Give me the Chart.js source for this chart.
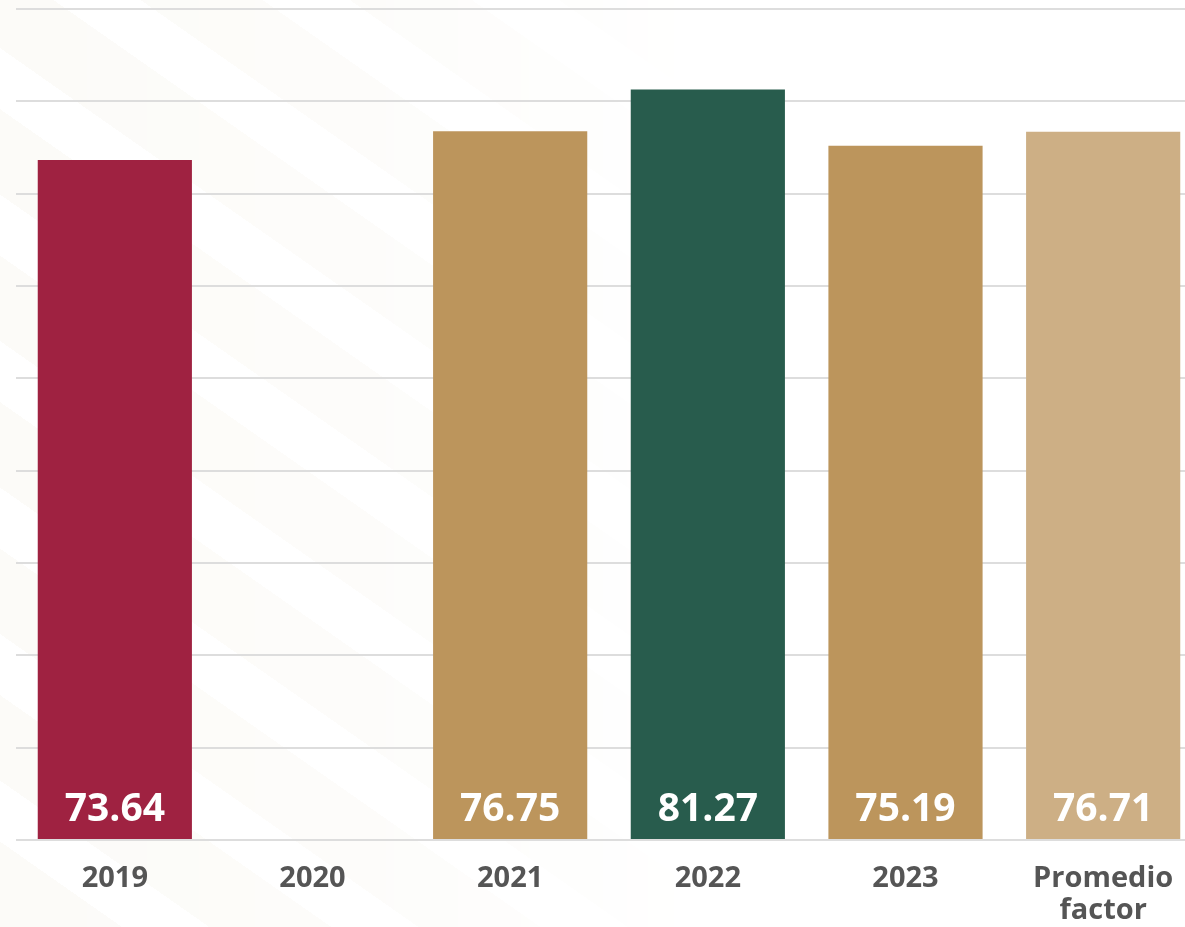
<!DOCTYPE html>
<html>
<head>
<meta charset="utf-8">
<script src="https://cdn.jsdelivr.net/npm/chart.js@4.4.1/dist/chart.umd.min.js"></script>
<style>
  html, body { margin: 0; padding: 0; width: 1185px; height: 927px; overflow: hidden; background: #ffffff; }
  #bg {
    position: absolute; left: 0; top: 0; width: 1185px; height: 927px;
    background: repeating-linear-gradient(35deg, #fcfbf8 0px, #fcfbf8 70px, #ffffff 70px, #ffffff 120px);
    -webkit-mask-image: linear-gradient(90deg, rgba(0,0,0,1) 0%, rgba(0,0,0,0.7) 30%, rgba(0,0,0,0) 60%);
    mask-image: linear-gradient(90deg, rgba(0,0,0,1) 0%, rgba(0,0,0,0.7) 30%, rgba(0,0,0,0) 60%);
  }
  #wrap { position: absolute; left: 0; top: 0; width: 1202px; height: 927px; }
</style>
</head>
<body>
<div id="bg"></div>
<div id="wrap"><canvas id="chart" width="1202" height="927"></canvas></div>
<script>
// Categories and values of the factor per year
const categories = ['2019', '2020', '2021', '2022', '2023', ['Promedio', 'factor']];
const factorValues = [73.64, null, 76.75, 81.27, 75.19, 76.71];
const barColors = ['#9f2241', '#bc955c', '#bc955c', '#285c4d', '#bc955c', '#cdaf85'];
const yMin = 0, yMax = 90, yStep = 10;

// Value labels drawn inside each bar near its base
const valueLabels = {
  id: 'valueLabels',
  afterDatasetsDraw(chart) {
    const { ctx } = chart;
    const meta = chart.getDatasetMeta(0);
    const yScale = chart.scales.y;
    const base = yScale.getPixelForValue(0);
    ctx.save();
    ctx.font = '700 39px "Open Sans", sans-serif';
    ctx.fillStyle = '#ffffff';
    ctx.textAlign = 'center';
    ctx.textBaseline = 'alphabetic';
    meta.data.forEach((bar, i) => {
      const v = factorValues[i];
      if (v === null || v === undefined) return;
      ctx.fillText(v.toFixed(2), bar.x, base - 19);
    });
    ctx.restore();
  }
};

new Chart(document.getElementById('chart'), {
  type: 'bar',
  data: {
    labels: categories,
    datasets: [{
      data: factorValues,
      backgroundColor: barColors,
      borderWidth: 0,
      categoryPercentage: 1,
      barPercentage: 0.78
    }]
  },
  options: {
    responsive: false,
    animation: false,
    devicePixelRatio: 1,
    layout: { padding: { left: 16, top: 9, right: 0, bottom: 0 } },
    plugins: { legend: { display: false }, tooltip: { enabled: false } },
    scales: {
      y: {
        min: yMin, max: yMax,
        ticks: { display: false, stepSize: yStep },
        border: { display: false },
        grid: { color: '#dddddd', lineWidth: 2, drawTicks: false, tickLength: 0 },
        afterFit(axis) { axis.width = 0; }
      },
      x: {
        border: { display: false },
        grid: { display: false, drawTicks: false },
        ticks: {
          color: '#555555',
          padding: 22,
          maxRotation: 0,
          autoSkip: false,
          font: { family: '"Open Sans", sans-serif', size: 29, weight: '700', lineHeight: 1.12 }
        },
        afterFit(axis) { axis.height = 87; }
      }
    }
  },
  plugins: [valueLabels]
});
</script>
</body>
</html>
